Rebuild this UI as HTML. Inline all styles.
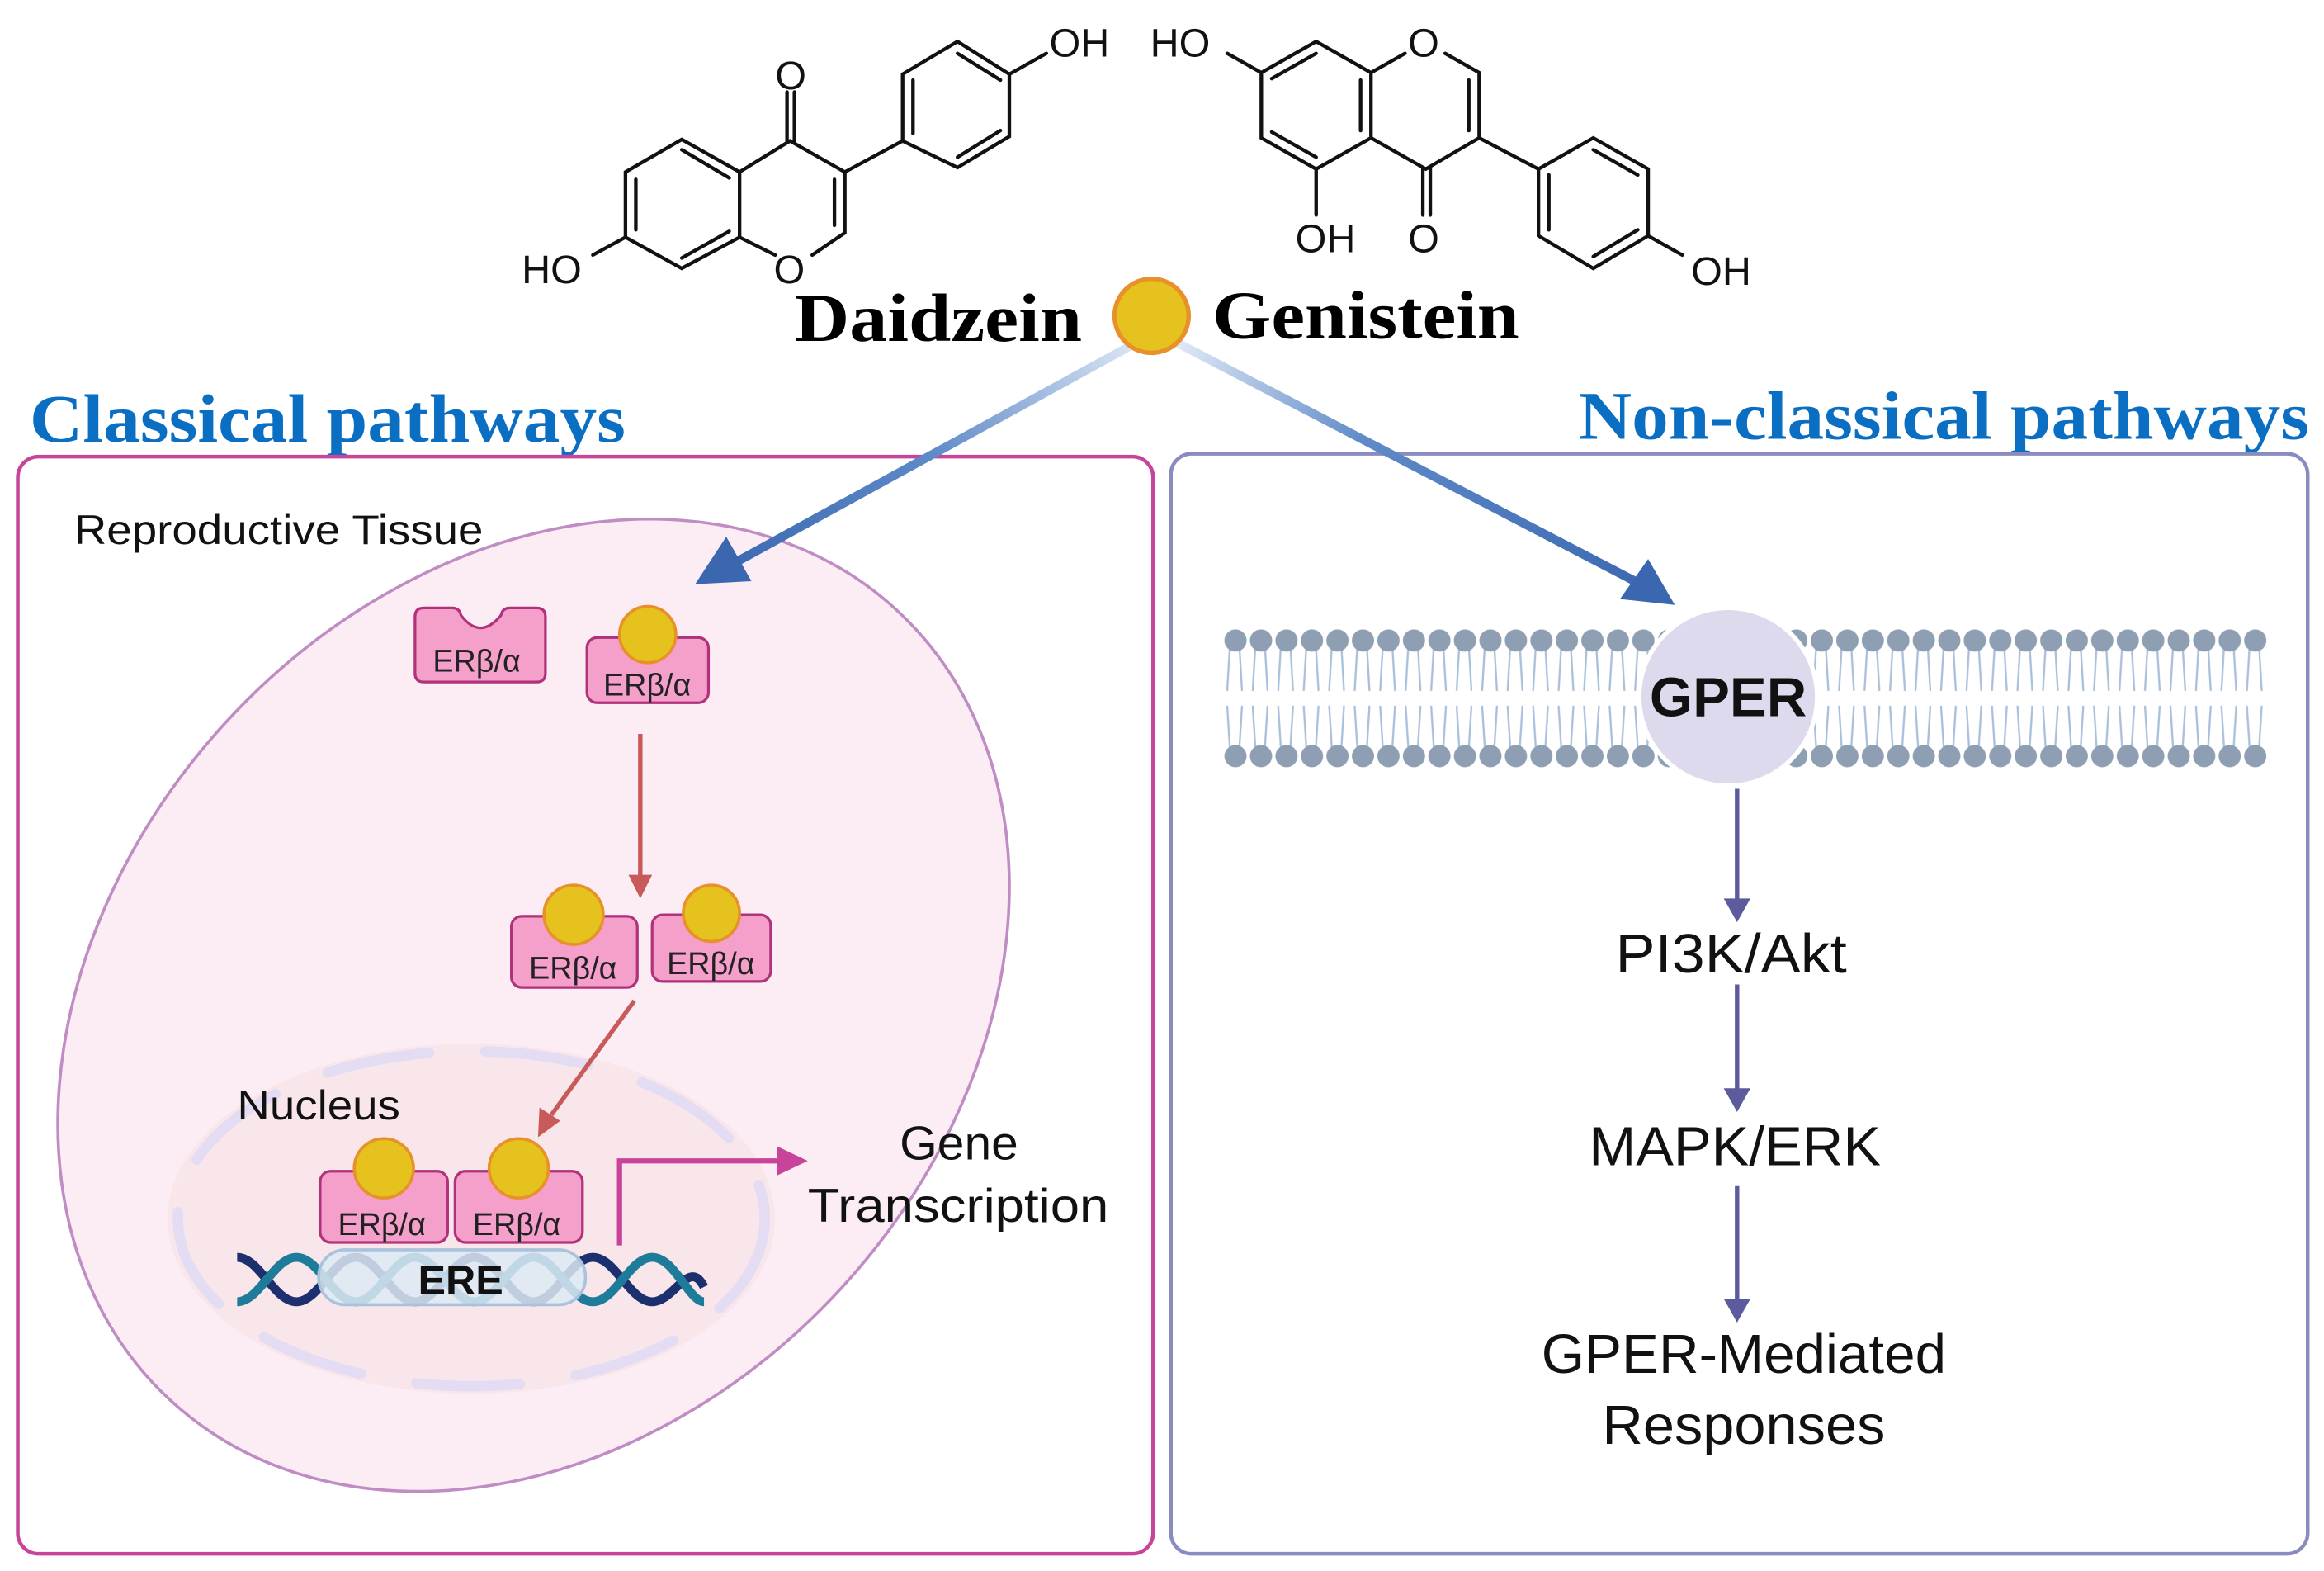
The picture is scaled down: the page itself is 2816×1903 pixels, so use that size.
<!DOCTYPE html>
<html><head><meta charset="utf-8"><style>
html,body{margin:0;padding:0;background:#fff;width:2816px;height:1903px;overflow:hidden}
svg{display:block}
text{font-family:"Liberation Sans",sans-serif}
.serif{font-family:"Liberation Serif",serif;font-weight:bold}
</style></head><body>
<svg width="2816" height="1903" viewBox="0 0 1568 1059.6" xmlns="http://www.w3.org/2000/svg">
<defs>
<linearGradient id="gl" x1="777" y1="225" x2="480" y2="385" gradientUnits="userSpaceOnUse">
<stop offset="0" stop-color="#e6eef8"/><stop offset="0.5" stop-color="#5f8ac8"/><stop offset="1" stop-color="#3a67b0"/></linearGradient>
<linearGradient id="gr" x1="790" y1="225" x2="1120" y2="400" gradientUnits="userSpaceOnUse">
<stop offset="0" stop-color="#e6eef8"/><stop offset="0.4" stop-color="#5f8ac8"/><stop offset="1" stop-color="#3a67b0"/></linearGradient>
<pattern id="mem" x="825" y="420" width="17.2" height="100" patternUnits="userSpaceOnUse">
<path d="M5,12 L3,46 M11,12 L13,46 M3,56 L5,88 M13,56 L11,88" stroke="#a9c0dc" stroke-width="1.3" fill="none"/>
<circle cx="8.6" cy="12" r="7.5" fill="#8f9fb3"/>
<circle cx="8.6" cy="90" r="7.5" fill="#8f9fb3"/>
</pattern>
</defs>

<!-- Daidzein structure -->
<g stroke="#111" stroke-width="2.4" fill="none" stroke-linecap="round">
<polyline points="460,94 499,116 499,160 460,181 422,160 422,116 460,94"/>
<line x1="429" y1="121" x2="429" y2="155"/>
<line x1="460" y1="101" x2="492" y2="120"/>
<line x1="460" y1="174" x2="492" y2="156"/>
<polyline points="499,116 533,95 570,116 570,157 548,172"/>
<line x1="499" y1="160" x2="523" y2="172"/>
<line x1="563" y1="121" x2="563" y2="152"/>
<line x1="531" y1="95" x2="531" y2="62"/><line x1="536" y1="95" x2="536" y2="62"/>
<polyline points="570,116 609,95 609,50 646,28 681,50 681,92 646,113 609,95"/>
<line x1="616" y1="54" x2="616" y2="90"/>
<line x1="646" y1="36" x2="675" y2="54"/>
<line x1="646" y1="106" x2="675" y2="88"/>
<line x1="681" y1="50" x2="706" y2="36"/>
<line x1="422" y1="160" x2="400" y2="172"/>
</g>
<g font-size="27" fill="#111">
<text x="523" y="60">O</text>
<text x="522" y="191">O</text>
<text x="708" y="38">OH</text>
<text x="352" y="191">HO</text>
</g>
<!-- Genistein structure -->
<g stroke="#111" stroke-width="2.4" fill="none" stroke-linecap="round">
<polyline points="888,28 925,49 925,93 888,114 851,93 851,49 888,28"/>
<line x1="918" y1="54" x2="918" y2="88"/>
<line x1="888" y1="36" x2="858" y2="53"/>
<line x1="888" y1="106" x2="858" y2="89"/>
<line x1="925" y1="49" x2="948" y2="36"/>
<polyline points="975,36 998,49 998,93 962,114 925,93"/>
<line x1="991" y1="54" x2="991" y2="88"/>
<line x1="960" y1="114" x2="960" y2="145"/><line x1="965" y1="114" x2="965" y2="145"/>
<line x1="888" y1="114" x2="888" y2="145"/>
<line x1="851" y1="49" x2="828" y2="36"/>
<polyline points="998,93 1038,114 1075,93 1112,114 1112,159 1075,181 1038,159 1038,114"/>
<line x1="1075" y1="101" x2="1105" y2="118"/>
<line x1="1105" y1="155" x2="1075" y2="173"/>
<line x1="1045" y1="118" x2="1045" y2="155"/>
<line x1="1112" y1="159" x2="1135" y2="172"/>
</g>
<g font-size="27" fill="#111">
<text x="776" y="38">HO</text>
<text x="950" y="38">O</text>
<text x="874" y="170">OH</text>
<text x="950" y="170">O</text>
<text x="1141" y="192">OH</text>
</g>
<text class="serif" x="536" y="230" font-size="46" textLength="194" lengthAdjust="spacingAndGlyphs" fill="#000">Daidzein</text>
<text class="serif" x="818" y="228" font-size="46" textLength="207" lengthAdjust="spacingAndGlyphs" fill="#000">Genistein</text>

<!-- titles -->
<text class="serif" x="20" y="298" font-size="46" fill="#0a6fc2" textLength="402" lengthAdjust="spacingAndGlyphs">Classical pathways</text>
<text class="serif" x="1065" y="296" font-size="46" fill="#0a6fc2" textLength="493" lengthAdjust="spacingAndGlyphs">Non-classical pathways</text>

<!-- panels -->
<rect x="12" y="308" width="766" height="740" rx="14" fill="none" stroke="#c8449a" stroke-width="2.5"/>
<rect x="790" y="306" width="767" height="742" rx="14" fill="none" stroke="#8a8cc0" stroke-width="2.5"/>

<!-- cell -->
<ellipse cx="360" cy="678" rx="362" ry="282" transform="rotate(-47.5 360 678)" fill="#fcedf5" stroke="#c08cc4" stroke-width="2"/>
<text x="50" y="367" font-size="28" fill="#111" textLength="276" lengthAdjust="spacingAndGlyphs">Reproductive Tissue</text>

<!-- blue arrows -->
<line x1="765" y1="232" x2="495" y2="380" stroke="url(#gl)" stroke-width="6"/>
<polygon points="469,394 490,362 507,392" fill="#3a67b0"/>
<line x1="792" y1="230" x2="1105" y2="393" stroke="url(#gr)" stroke-width="6"/>
<polygon points="1130,408 1112,377 1093,404" fill="#3a67b0"/>
<circle cx="777" cy="213" r="25" fill="#e6c21e" stroke="#e8902a" stroke-width="3"/>

<!-- nucleus -->
<ellipse cx="318" cy="822" rx="205" ry="118" fill="#f8e6ea"/>
<ellipse cx="318" cy="822" rx="198" ry="113" fill="none" stroke="#e4dcf2" stroke-width="7" stroke-linecap="round" stroke-dasharray="70 38"/>
<text x="160" y="755" font-size="28" fill="#111" textLength="110" lengthAdjust="spacingAndGlyphs">Nucleus</text>

<!-- receptors -->
<g stroke="#b0327a" stroke-width="1.8" fill="#f59fcb">
<path d="M286,410 L305,410 Q310,410 311,415 Q324,432 338,415 Q339,410 344,410 L362,410 Q368,410 368,416 L368,454 Q368,460 362,460 L286,460 Q280,460 280,454 L280,416 Q280,410 286,410 Z"/>
<rect x="396" y="430" width="82" height="44" rx="7"/>
<rect x="345" y="618" width="85" height="48" rx="7"/>
<rect x="440" y="617" width="80" height="45" rx="7"/>
<rect x="216" y="790" width="86" height="48" rx="7"/>
<rect x="307" y="790" width="86" height="48" rx="7"/>
</g>
<g fill="#e6c21e" stroke="#e8902a" stroke-width="2">
<circle cx="437" cy="428" r="19"/>
<circle cx="387" cy="617" r="20"/>
<circle cx="480" cy="616" r="19"/>
<circle cx="259" cy="788" r="20"/>
<circle cx="350" cy="788" r="20"/>
</g>
<g font-size="21" fill="#222">
<text x="292" y="453">ERβ/α</text>
<text x="407" y="469">ERβ/α</text>
<text x="357" y="660">ERβ/α</text>
<text x="450" y="657">ERβ/α</text>
<text x="228" y="833">ERβ/α</text>
<text x="319" y="833">ERβ/α</text>
</g>
<!-- red arrows -->
<line x1="432" y1="495" x2="432" y2="592" stroke="#c85a5a" stroke-width="3"/>
<polygon points="424,590 440,590 432,606" fill="#c85a5a"/>
<line x1="428" y1="675" x2="372" y2="752" stroke="#c85a5a" stroke-width="3"/>
<polygon points="363,767 364,747 378,756" fill="#c85a5a"/>

<!-- DNA -->
<path d="M160,848 C175,848 185,878 200,878 C215,878 225,848 240,848 C255,848 265,878 280,878 C295,878 305,848 320,848 C335,848 345,878 360,878 C375,878 385,848 400,848 C415,848 425,878 440,878 C455,878 465,848 475,868" stroke="#1c2f6e" stroke-width="6" fill="none"/>
<path d="M160,878 C175,878 185,848 200,848 C215,848 225,878 240,878 C255,878 265,848 280,848 C295,848 305,878 320,878 C335,878 345,848 360,848 C375,848 385,878 400,878 C415,878 425,848 440,848 C455,848 465,878 475,878" stroke="#1e7b9a" stroke-width="6" fill="none"/>
<rect x="215" y="843" width="180" height="37" rx="18" fill="#dde9f3" fill-opacity="0.85" stroke="#a9c3dc" stroke-width="2"/>
<text x="282" y="873" font-size="28" font-weight="bold" fill="#111">ERE</text>
<!-- magenta arrow -->
<polyline points="418,840 418,783 527,783" fill="none" stroke="#c8449a" stroke-width="3.5"/>
<polygon points="524,773 545,783 524,793" fill="#c8449a"/>
<text x="607" y="782" font-size="32" fill="#111" textLength="80" lengthAdjust="spacingAndGlyphs">Gene</text>
<text x="545" y="824" font-size="32" fill="#111" textLength="203" lengthAdjust="spacingAndGlyphs">Transcription</text>

<!-- membrane -->
<rect x="825" y="420" width="705" height="100" fill="url(#mem)"/>
<circle cx="1166" cy="470" r="60" fill="#dcdaec" stroke="#fff" stroke-width="3"/>
<text x="1113" y="483" font-size="37" font-weight="bold" fill="#111" textLength="106" lengthAdjust="spacingAndGlyphs">GPER</text>
<!-- purple arrows -->
<g stroke="#5b5b9e" stroke-width="3">
<line x1="1172" y1="532" x2="1172" y2="608"/>
<line x1="1172" y1="664" x2="1172" y2="736"/>
<line x1="1172" y1="800" x2="1172" y2="878"/>
</g>
<g fill="#5b5b9e">
<polygon points="1163,606 1181,606 1172,622"/>
<polygon points="1163,734 1181,734 1172,750"/>
<polygon points="1163,876 1181,876 1172,892"/>
</g>
<g font-size="37" fill="#111">
<text x="1090" y="656" textLength="156" lengthAdjust="spacingAndGlyphs">PI3K/Akt</text>
<text x="1072" y="786" textLength="197" lengthAdjust="spacingAndGlyphs">MAPK/ERK</text>
<text x="1040" y="926" textLength="273" lengthAdjust="spacingAndGlyphs">GPER-Mediated</text>
<text x="1081" y="974" textLength="191" lengthAdjust="spacingAndGlyphs">Responses</text>
</g>
</svg>
</body></html>
